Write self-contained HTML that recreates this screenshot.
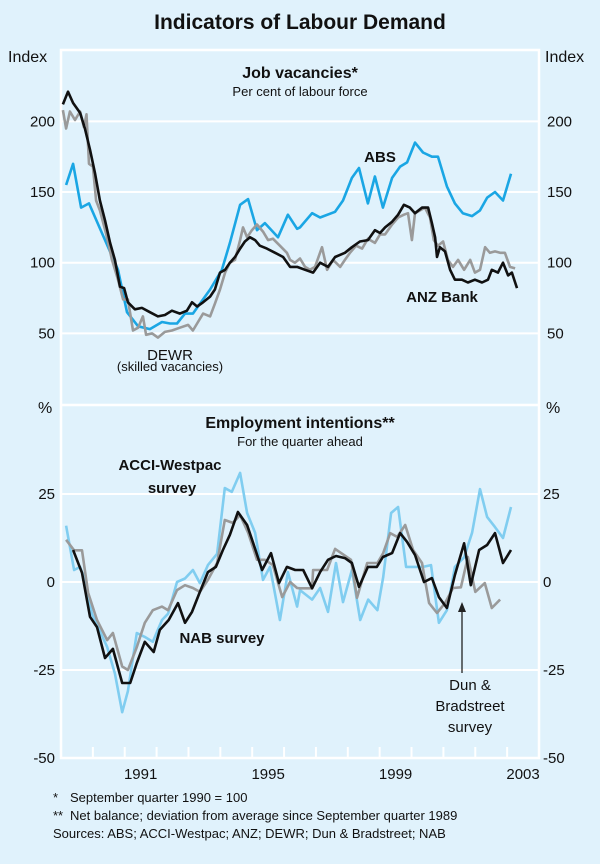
<!DOCTYPE html>
<html><head><meta charset="utf-8"><style>
html,body{margin:0;padding:0;background:#e0f2fc;}
svg{display:block;font-family:"Liberation Sans",Arial,sans-serif;}
</style></head><body>
<svg width="600" height="864" viewBox="0 0 600 864" id="chart">
<rect x="0" y="0" width="600" height="864" fill="#e0f2fc"/>
<text x="300" y="29" text-anchor="middle" font-size="21" font-weight="bold" fill="#111">Indicators of Labour Demand</text>
<g id="grid"></g>
<g id="series"></g>
<g id="labels" font-size="15" fill="#111">
<text x="8" y="62" font-size="16">Index</text>
<text x="545" y="62" font-size="16">Index</text>
<text x="38" y="413" font-size="16">%</text>
<text x="546" y="413" font-size="16">%</text>
</g>
<text x="300" y="78" text-anchor="middle" font-size="16" font-weight="bold" fill="#111">Job vacancies*</text>
<text x="300" y="96" text-anchor="middle" font-size="13" fill="#111">Per cent of labour force</text>
<text x="300" y="428" text-anchor="middle" font-size="16" font-weight="bold" fill="#111">Employment intentions**</text>
<text x="300" y="446" text-anchor="middle" font-size="13" fill="#111">For the quarter ahead</text>
<g font-size="15" fill="#111" text-anchor="middle" font-weight="bold">
<text x="380" y="162">ABS</text>
<text x="442" y="302">ANZ Bank</text>
<text x="170" y="360" font-weight="normal">DEWR</text>
<text x="170" y="371" font-size="13" font-weight="normal">(skilled vacancies)</text>
<text x="170" y="470">ACCI-Westpac</text>
<text x="172" y="493">survey</text>
<text x="222" y="643">NAB survey</text>
<text x="470" y="690" font-weight="normal">Dun &amp;</text>
<text x="470" y="711" font-weight="normal">Bradstreet</text>
<text x="470" y="732" font-weight="normal">survey</text>
</g>
<line x1="462" y1="673" x2="462" y2="610" stroke="#222" stroke-width="1.3"/>
<polygon points="462,602 458,612 466,612" fill="#222"/>
<g font-size="13" fill="#111">
<text x="53" y="802">*</text>
<text x="70" y="802">September quarter 1990 = 100</text>
<text x="53" y="820">**</text>
<text x="70" y="820">Net balance; deviation from average since September quarter 1989</text>
<text x="53" y="838">Sources: ABS; ACCI-Westpac; ANZ; DEWR; Dun &amp; Bradstreet; NAB</text>
</g>
</svg>
<script>
// ---- data ----
const yearLabels = [1991, 1995, 1999, 2003];
const topTicks = [50, 100, 150, 200];
const bottomTicks = [-50, -25, 0, 25];

const absDates = [1989.16,1989.38,1989.63,1989.88,1990.79,1991.07,1991.42,1991.79,1992.17,1992.42,1992.64,1992.89,1993.14,1993.36,1993.68,1994.05,1994.30,1994.62,1994.87,1995.15,1995.40,1995.81,1996.12,1996.41,1996.50,1996.88,1997.13,1997.60,1997.85,1998.13,1998.35,1998.63,1998.85,1999.10,1999.39,1999.64,1999.86,2000.11,2000.36,2000.64,2000.83,2001.11,2001.36,2001.61,2001.90,2002.15,2002.37,2002.62,2002.87,2003.12];
const absValues = [155,170,139,142,95,65,55,53,58,57,57,64,64,71,81,95,114,141,145,123,128,118,134,124,125,135,132,136,144,160,167,142,161,139,160,168,171,185,178,175,175,154,142,135,133,137,146,150,144,163];
const anzDates = [1989.06,1989.22,1989.38,1989.60,1989.75,1989.91,1990.07,1990.22,1990.38,1990.54,1990.69,1990.85,1990.98,1991.10,1991.32,1991.54,1991.79,1992.04,1992.26,1992.48,1992.73,1992.95,1993.11,1993.27,1993.46,1993.68,1993.83,1993.99,1994.15,1994.30,1994.46,1994.62,1994.77,1994.93,1995.09,1995.24,1995.46,1995.72,1995.97,1996.19,1996.41,1996.66,1996.91,1997.13,1997.38,1997.60,1997.91,1998.13,1998.38,1998.63,1998.85,1999.01,1999.17,1999.39,1999.58,1999.76,1999.95,2000.11,2000.33,2000.52,2000.64,2000.74,2000.80,2000.89,2001.05,2001.21,2001.36,2001.58,2001.77,2001.99,2002.21,2002.40,2002.52,2002.71,2002.87,2003.03,2003.15,2003.31];
const anzValues = [212,221,213,206,195,180,163,144,130,114,102,83,82,72,67,68,65,62,63,66,64,66,72,69,72,76,81,93,95,100,104,110,115,118,116,112,110,107,104,97,97,95,93,100,97,104,107,111,115,116,123,121,125,129,134,141,139,135,139,139,128,118,104,111,108,95,88,88,86,88,86,88,95,93,100,91,93,82];
const dewrDates = [1989.06,1989.16,1989.28,1989.44,1989.60,1989.72,1989.80,1989.88,1990.00,1990.10,1990.22,1990.41,1990.60,1990.79,1990.95,1991.10,1991.26,1991.42,1991.57,1991.67,1991.86,1992.04,1992.26,1992.48,1992.73,1992.99,1993.14,1993.30,1993.46,1993.68,1993.83,1993.99,1994.15,1994.30,1994.46,1994.62,1994.71,1994.84,1994.99,1995.15,1995.34,1995.50,1995.65,1995.87,1996.09,1996.19,1996.34,1996.50,1996.66,1996.81,1996.97,1997.19,1997.35,1997.54,1997.76,1997.91,1998.07,1998.26,1998.45,1998.63,1998.85,1999.01,1999.17,1999.39,1999.58,1999.76,1999.89,2000.01,2000.11,2000.27,2000.42,2000.58,2000.70,2000.83,2000.99,2001.14,2001.30,2001.46,2001.65,2001.84,2001.99,2002.15,2002.31,2002.46,2002.62,2002.78,2002.93,2003.09,2003.25];
const dewrValues = [208,195,207,201,207,196,205,170,168,144,137,121,102,88,74,74,52,54,62,49,50,47,51,52,54,56,52,58,64,62,71,81,93,100,102,116,125,118,123,127,122,116,117,112,107,102,100,103,97,95,97,111,95,102,97,102,107,112,110,117,114,120,120,127,132,134,135,116,135,137,139,132,116,112,115,102,97,102,95,102,93,95,111,107,108,107,107,97,96];
const acciDates = [1989.16,1989.41,1989.60,1989.75,1989.97,1990.22,1990.45,1990.69,1990.92,1991.10,1991.38,1991.63,1991.88,1992.17,1992.36,1992.64,1992.89,1993.14,1993.36,1993.61,1993.90,1994.14,1994.36,1994.62,1994.84,1995.09,1995.34,1995.56,1995.87,1996.12,1996.41,1996.50,1996.88,1997.13,1997.38,1997.63,1997.85,1998.13,1998.39,1998.64,1998.93,1999.11,1999.36,1999.58,1999.83,2000.11,2000.36,2000.61,2000.86,2001.11,2001.36,2001.65,2001.90,2002.15,2002.37,2002.62,2002.87,2003.12];
const acciValues = [16,3.4,4.3,0.5,-9,-14,-18.5,-26,-37,-31,-14.5,-15.6,-17,-10.8,-9,0,1,3.4,-0.3,4.8,8,26.7,25.6,31,19.6,14,0.6,4.3,-10.8,2.8,-7,-2.3,-5,-1.7,-8.5,5.4,-5.7,3.4,-10.8,-5,-8,1.4,19.6,21.3,4.3,4.3,4.3,4.8,-11.6,-8,4.3,7,14,26.4,18.5,15.6,12.5,21.3];
const nabDates = [1989.16,1989.41,1989.66,1989.85,1990.13,1990.45,1990.63,1990.92,1991.10,1991.38,1991.63,1991.88,1992.17,1992.36,1992.64,1992.89,1993.14,1993.36,1993.61,1993.90,1994.14,1994.39,1994.62,1994.87,1995.15,1995.40,1995.65,1995.94,1996.19,1996.41,1996.50,1996.88,1996.91,1997.35,1997.60,1998.10,1998.29,1998.61,1998.93,1999.11,1999.33,1999.55,1999.80,2000.05,2000.33,2000.55,2000.80,2001.05,2001.30,2001.55,2001.77,2002.00,2002.30,2002.52,2002.78];
const nabValues = [12,9,9,-3,-10.8,-16.5,-14.5,-24,-25,-18.5,-11.6,-8,-7,-8,-2.3,-0.9,-1.7,-2.8,0.6,5.4,17.6,16.8,19,14,6.3,6.3,4.8,-4.3,0,-1.7,-1.8,-1.8,3.4,3.4,9.4,6.3,-4.5,5.4,5.4,8.2,13.9,12.8,16.2,9.1,5.4,-6,-8.8,-6,-1.7,-1.5,7.1,-2.8,-0.3,-7.4,-5];
const dnbDates = [1989.38,1989.66,1989.91,1990.13,1990.38,1990.63,1990.92,1991.17,1991.38,1991.63,1991.91,1992.10,1992.38,1992.67,1992.89,1993.11,1993.36,1993.61,1993.86,1994.08,1994.30,1994.55,1994.84,1995.02,1995.31,1995.59,1995.84,1996.09,1996.35,1996.60,1996.88,1997.13,1997.38,1997.63,1997.91,1998.13,1998.35,1998.63,1998.91,1999.10,1999.39,1999.64,1999.86,2000.11,2000.39,2000.64,2000.86,2001.11,2001.36,2001.65,2001.86,2002.12,2002.37,2002.62,2002.87,2003.12];
const dnbValues = [9.1,2.6,-9.9,-12.8,-21.6,-19,-28.7,-28.7,-23,-17,-19.9,-13.6,-10.8,-6,-11.6,-8.5,-2.8,2.8,4.3,9.1,13.4,19.9,16.2,11.4,3.4,8.2,-0.3,4.3,3.4,3.4,-1.8,2.8,6.3,7.4,6.8,5.4,-1.4,4.3,4.3,7.1,8.2,13.9,11.4,7.7,0,1.1,-4.3,-7.4,2,11,-0.9,9.1,10.5,13.9,5.4,9.1];

// ---- axes ----
const NS = 'http://www.w3.org/2000/svg';
const X0 = 61, X1 = 539, T0 = 1989, T1 = 2004;
function xScale(t){ return X0 + (t - T0) * (X1 - X0) / (T1 - T0); }
function yTop(v){ return 404 - v * 1.413; }
function yBot(v){ return 582 - v * 3.52; }

const grid = document.getElementById('grid');
const ser = document.getElementById('series');
const lab = document.getElementById('labels');
function mk(tag, attrs, parent){
  const e = document.createElementNS(NS, tag);
  for (const k in attrs) e.setAttribute(k, attrs[k]);
  parent.appendChild(e);
  return e;
}
let f = mk('rect', {x:X0, y:50, width:X1-X0, height:708, fill:'none', stroke:'#fff', 'stroke-width':2.5}, grid);


let sep = mk('line', {x1:X0, x2:X1, y1:405, y2:405, stroke:'#fff', 'stroke-width':2.5}, grid);


topTicks.forEach(v => {
  const g = mk('line', {x1:X0, x2:X1, y1:yTop(v), y2:yTop(v), stroke:'#fff', 'stroke-width':2}, grid);
  
  
  const l = mk('text', {x:55, y:yTop(v)+5, 'text-anchor':'end', 'font-size':15}, lab);
  l.textContent = v;
  
  
  const r = mk('text', {x:547, y:yTop(v)+5, 'font-size':15}, lab);
  r.textContent = v;
  
  
});
bottomTicks.forEach(v => {
  if (v !== -50) {
    const g = mk('line', {x1:X0, x2:X1, y1:yBot(v), y2:yBot(v), stroke:'#fff', 'stroke-width':2}, grid);
    
    
  }
  const l = mk('text', {x:55, y:yBot(v)+5, 'text-anchor':'end', 'font-size':15}, lab);
  l.textContent = v;
  
  
  const r = mk('text', {x:543, y:yBot(v)+5, 'font-size':15}, lab);
  r.textContent = v;
  
  
});
for (let y = 1990; y <= 2003; y++) {
  const t = mk('line', {x1:xScale(y), x2:xScale(y), y1:758, y2:747, stroke:'#fff', 'stroke-width':2}, grid);
  
  
}
yearLabels.forEach(y => {
  const l = mk('text', {x:xScale(y + 0.5), y:779, 'text-anchor':'middle', 'font-size':15}, lab);
  l.textContent = y;
  
  
});
function line(dates, vals, yf, color, w, name){
  const n = Math.min(dates.length, vals.length);
  const pts = [];
  for (let i = 0; i < n; i++) pts.push(xScale(dates[i]).toFixed(1) + ',' + yf(vals[i]).toFixed(1));
  const p = mk('polyline', {points:pts.join(' '), fill:'none', stroke:color, 'stroke-width':w, 'stroke-linejoin':'round'}, ser);
  
  
}
line(absDates, absValues, yTop, '#1aa6e4', 2.6, 'abs-line');
line(dewrDates, dewrValues, yTop, '#9a9a9a', 2.6, 'dewr-line');
line(anzDates, anzValues, yTop, '#111', 2.6, 'anz-bank-line');
line(acciDates, acciValues, yBot, '#80cdf0', 2.6, 'acci-westpac-line');
line(nabDates, nabValues, yBot, '#9a9a9a', 2.6, 'nab-line');
line(dnbDates, dnbValues, yBot, '#111', 2.6, 'dun-bradstreet-line');
</script>
</body></html>
